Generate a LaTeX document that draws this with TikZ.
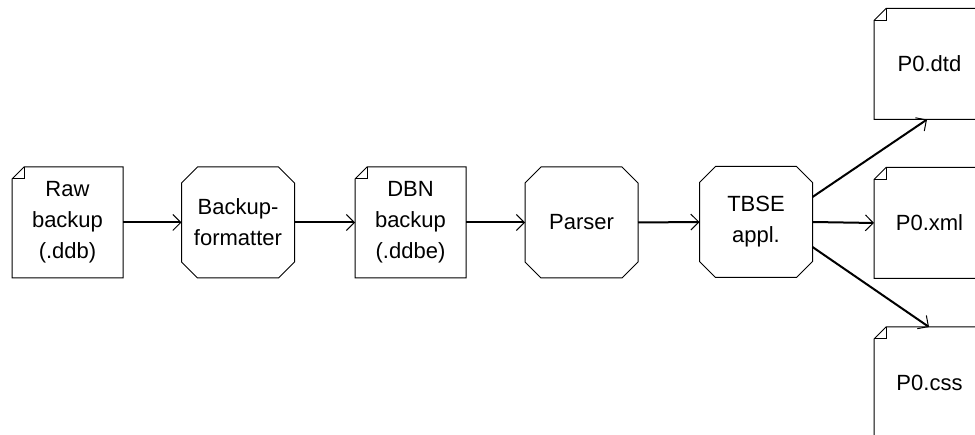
\documentclass[tikz,border=0pt]{standalone}
\usepackage{fontspec}
\setmainfont{Liberation Sans}
\usetikzlibrary{arrows.meta}
\begin{document}
\begin{tikzpicture}[x=1pt,y=-1pt,
  label font/.style={font=\fontsize{22}{31}\selectfont, align=center},
  docnode/.style={label font, rectangle, minimum width=111pt, minimum height=111pt, inner sep=0pt, outer sep=0pt},
  procnode/.style={label font, rectangle, minimum width=113pt, minimum height=111pt, inner sep=0pt, outer sep=0pt},
  outline/.style={line width=1pt, line join=miter},
  flow/.style={line width=2pt, -{Straight Barb[length=8pt,width=16pt,line width=1pt]}}]
\useasboundingbox (0,0) rectangle (975,435);
\clip (0,0) rectangle (975,435);

% processing steps and data files
\node[docnode]  (raw)    at (67.5,222.5)  {Raw\\backup\\(.ddb)};
\node[procnode] (fmt)    at (238,222.5)   {Backup-\\formatter};
\node[docnode]  (dbn)    at (410.5,222.5) {DBN\\backup\\(.ddbe)};
\node[procnode] (parser) at (581.5,222.5) {Parser};
\node[procnode] (tbse)   at (756,222)     {TBSE\\appl.};
\node[docnode]  (dtd)    at (929.5,64)    {P0.dtd};
\node[docnode]  (xml)    at (929.5,223)   {P0.xml};
\node[docnode]  (css)    at (929.5,382.5) {P0.css};

% document outline with a folded top-left corner
\foreach \n in {raw,dbn,dtd,xml,css}{
  \draw[outline]
    ([xshift=12pt]\n.north west) -- (\n.north east) -- (\n.south east)
    -- (\n.south west) -- ([yshift=-12pt]\n.north west) -- cycle;
  \draw[outline]
    ([yshift=-12pt]\n.north west) -- ([xshift=12pt,yshift=-12pt]\n.north west)
    -- ([xshift=12pt]\n.north west);
}

% octagonal outline of the processing steps
\foreach \n in {fmt,parser,tbse}{
  \draw[outline]
    ([xshift=16pt]\n.north west) -- ([xshift=-16pt]\n.north east)
    -- ([yshift=-16pt]\n.north east) -- ([yshift=16pt]\n.south east)
    -- ([xshift=-16pt]\n.south east) -- ([xshift=16pt]\n.south west)
    -- ([yshift=16pt]\n.south west) -- ([yshift=-16pt]\n.north west) -- cycle;
}

% data flow
\draw[flow] (raw.east) -- (fmt.west);
\draw[flow] (fmt.east) -- (dbn.west);
\draw[flow] (dbn.east) -- (parser.west);
\draw[flow] (parser.east) -- (tbse.west);
\draw[flow] (tbse.east) -- (xml.west);
\coordinate (tup) at ([yshift=25pt]tbse.east);
\coordinate (tdn) at ([yshift=-25pt]tbse.east);
\draw[flow] (tup) -- ([xshift=53pt]dtd.south west);
\draw[flow] (tdn) -- ([xshift=55pt]css.north west);
\end{tikzpicture}
\end{document}
